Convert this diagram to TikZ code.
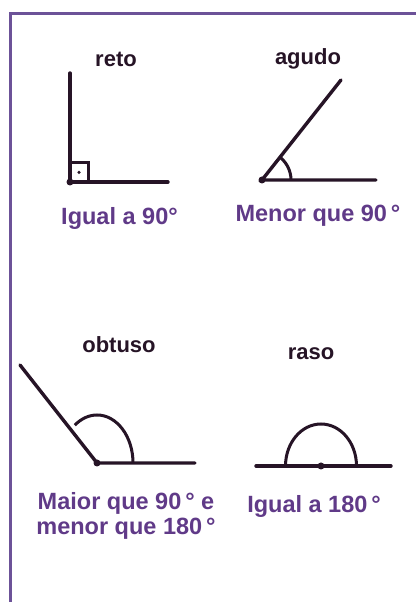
\documentclass[tikz,border=0pt]{standalone}
\usepackage{fontspec}
\setmainfont{Liberation Sans}
\usetikzlibrary{positioning, calc}
\definecolor{framecolor}{RGB}{108,82,152}
\definecolor{labelcolor}{RGB}{96,58,136}
\definecolor{linecolor}{RGB}{38,20,38}

\begin{document}
\begin{tikzpicture}[
    x=1pt, y=1pt,
    title/.style={font=\bfseries\fontsize{22}{24}\selectfont, text=linecolor, anchor=base},
    caption/.style={font=\bfseries\fontsize{23.5}{25}\selectfont, text=labelcolor, align=center},
    side/.style={line width=3.4pt, linecolor, line cap=round},
    arcline/.style={line width=3pt, linecolor},
    vertexdot/.style={circle, fill=linecolor, inner sep=0pt, minimum size=7pt}
]
    \useasboundingbox (0,0) rectangle (416,602);
    \fill[white] (0,0) rectangle (416,602);

    % Frame
    \draw[framecolor, line width=3.2pt] (10.7,0) -- (10.7,588.3) -- (416,588.3);

    % reto
    \node[title] (reto) at (116,535) {reto};
    \coordinate (retoV) at (70,420);
    \coordinate (retoUp) at (70,529);
    \coordinate (retoEnd) at (168,420);
    \draw[side] (retoUp) -- (retoV) -- (retoEnd);
    \draw[arcline] (retoV) rectangle ++(18,19);
    \node[vertexdot, minimum size=3.5pt] (retoSq) at (79,429.5) {};
    \node[vertexdot] (retoDot) at (retoV) {};
    \node[caption, anchor=base] (retoTxt) at (119.5,377) {Igual a 90°};

    % agudo
    \node[title] (agudo) at (308,537) {agudo};
    \coordinate (agudoV) at (262,422);
    \coordinate (agudoUp) at (341,522);
    \coordinate (agudoEnd) at (376,422);
    \draw[side] (agudoUp) -- (agudoV) -- (agudoEnd);
    \draw[arcline] ($(agudoV)+(29,0)$) arc[start angle=0, end angle=51.7, radius=29];
    \node[vertexdot] (agudoDot) at (agudoV) {};
    \node[caption, anchor=base] (agudoTxt) at (318,380) {Menor que 90\,°};

    % obtuso
    \node[title] (obtuso) at (119,249) {obtuso};
    \coordinate (obtusoV) at (97,139);
    \coordinate (obtusoUp) at (20,237);
    \coordinate (obtusoEnd) at (195,139);
    \draw[side] (obtusoUp) -- (obtusoV) -- (obtusoEnd);
    \draw[arcline] ($(obtusoV)+(36,0)$) arc[start angle=0, end angle=128, x radius=36, y radius=48];
    \node[vertexdot] (obtusoDot) at (obtusoV) {};
    \node[caption] (obtusoTxt) at (126,86) {Maior que 90\,° e\\menor que 180\,°};

    % raso
    \node[title] (raso) at (311,242) {raso};
    \coordinate (rasoV) at (321,136);
    \coordinate (rasoL) at (256,136);
    \coordinate (rasoR) at (391,136);
    \draw[side] (rasoL) -- (rasoR);
    \draw[arcline] ($(rasoV)+(35.5,0)$) arc[start angle=0, end angle=180, x radius=35.5, y radius=42];
    \node[vertexdot] (rasoDot) at (rasoV) {};
    \node[caption, anchor=base] (rasoTxt) at (314,89) {Igual a 180\,°};
\end{tikzpicture}
\end{document}
